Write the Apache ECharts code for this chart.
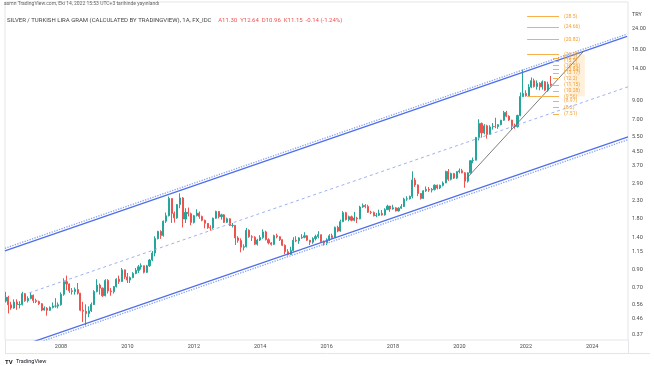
<!DOCTYPE html>
<html><head><meta charset="utf-8">
<script src="https://cdn.jsdelivr.net/npm/echarts@6/dist/echarts.min.js"></script>
<style>html,body{margin:0;padding:0;background:#fff}#c{width:654px;height:366px}</style>
</head><body><div id="c"></div>
<script>
// ---- DATA (monthly candles, SILVER / TRY per gram, from 2006-05) ----
const startYear = 2006, startMonth = 5;
const opens = [
 0.586,0.618,0.557,0.533,0.578,0.558,0.560,0.648,
 0.589,0.607,0.635,0.590,0.582,0.565,0.518,0.531,0.517,0.537,0.547,0.547,
 0.557,0.643,0.764,0.740,0.674,0.668,0.686,0.653,0.517,0.510,0.494,0.513,
 0.559,0.667,0.729,0.699,0.630,0.777,0.673,0.666,0.714,0.790,0.765,0.897,
 0.815,0.781,0.807,0.855,0.891,0.935,0.950,0.868,0.948,1.026,1.128,1.374,
 1.515,1.435,1.744,1.877,2.375,1.938,1.823,2.186,2.394,1.794,1.969,1.930,
 1.714,1.879,1.947,1.860,1.765,1.692,1.595,1.588,1.814,1.991,1.853,1.900,
 1.717,1.800,1.643,1.647,1.387,1.341,1.222,1.229,1.540,1.409,1.401,1.273,
 1.348,1.395,1.506,1.355,1.296,1.271,1.431,1.410,1.354,1.254,1.149,1.106,
 1.168,1.344,1.334,1.388,1.399,1.428,1.344,1.309,1.375,1.413,1.450,1.319,
 1.296,1.351,1.428,1.396,1.602,1.523,1.731,1.958,1.780,1.852,1.764,1.820,
 1.800,2.116,2.159,2.130,1.969,1.963,1.879,1.890,1.941,1.900,2.040,2.141,
 2.059,2.091,2.004,2.083,2.128,2.357,2.366,2.447,3.054,2.859,2.543,2.379,
 2.636,2.691,2.663,2.690,2.850,2.741,2.843,2.937,3.437,3.088,3.340,3.137,
 3.424,3.466,3.372,3.009,3.371,3.979,4.008,5.468,6.617,5.813,6.401,5.697,
 6.307,6.340,6.335,6.507,6.913,7.687,7.300,6.928,6.420,6.331,7.376,9.539,
 9.963,9.650,10.860,11.860,10.940,11.440,10.900,11.680,10.420,11.300
];
const highs = [
 0.665,0.630,0.580,0.600,0.600,0.585,0.665,0.655,
 0.625,0.660,0.640,0.605,0.590,0.570,0.545,0.540,0.545,0.575,0.610,0.575,
 0.660,0.800,0.830,0.745,0.700,0.705,0.750,0.655,0.580,0.560,0.545,0.575,
 0.680,0.790,0.745,0.705,0.790,0.790,0.700,0.720,0.800,0.830,0.920,0.900,
 0.860,0.820,0.870,0.920,0.960,0.980,0.950,0.960,1.040,1.160,1.420,1.530,
 1.540,1.760,1.960,2.440,2.380,1.990,2.200,2.550,2.420,2.080,2.100,1.960,
 1.900,2.050,1.990,1.880,1.780,1.700,1.650,1.830,2.010,2.000,1.930,1.920,
 1.830,1.810,1.700,1.650,1.420,1.380,1.270,1.590,1.560,1.440,1.420,1.370,
 1.440,1.560,1.530,1.380,1.310,1.450,1.470,1.420,1.360,1.270,1.190,1.230,
 1.400,1.420,1.400,1.460,1.500,1.440,1.350,1.400,1.450,1.520,1.450,1.340,
 1.380,1.460,1.470,1.620,1.640,1.780,2.000,1.980,1.880,1.880,1.980,1.850,
 2.150,2.220,2.200,2.180,2.010,1.990,1.950,2.040,2.030,2.080,2.180,2.150,
 2.180,2.110,2.110,2.200,2.400,2.450,2.470,3.440,3.150,2.880,2.560,2.660,
 2.800,2.780,2.740,2.880,2.870,2.870,3.000,3.470,3.550,3.380,3.370,3.450,
 3.580,3.560,3.400,3.400,4.000,4.150,5.500,7.000,6.700,6.550,6.500,6.450,
 6.650,7.150,6.550,6.950,7.850,7.850,7.400,6.950,6.600,7.450,10.100,13.800,
 10.400,11.300,12.400,12.200,11.900,11.600,11.900,11.800,11.700,12.640
];
const lows = [
 0.575,0.495,0.520,0.528,0.520,0.530,0.552,0.580,
 0.575,0.600,0.570,0.570,0.555,0.510,0.515,0.480,0.512,0.530,0.535,0.530,
 0.550,0.630,0.680,0.655,0.640,0.640,0.640,0.510,0.440,0.420,0.470,0.505,
 0.555,0.660,0.640,0.620,0.625,0.650,0.630,0.650,0.705,0.740,0.760,0.790,
 0.750,0.750,0.800,0.845,0.860,0.900,0.855,0.860,0.935,1.010,1.080,1.360,
 1.370,1.410,1.700,1.860,1.700,1.710,1.800,2.080,1.600,1.700,1.860,1.650,
 1.690,1.860,1.800,1.740,1.580,1.570,1.530,1.570,1.800,1.810,1.780,1.700,
 1.700,1.630,1.600,1.260,1.300,1.140,1.170,1.220,1.390,1.330,1.260,1.250,
 1.330,1.370,1.340,1.270,1.250,1.260,1.380,1.330,1.240,1.110,1.090,1.100,
 1.150,1.310,1.280,1.370,1.380,1.330,1.260,1.280,1.340,1.380,1.300,1.250,
 1.260,1.330,1.370,1.390,1.500,1.510,1.720,1.760,1.740,1.740,1.740,1.700,
 1.790,2.090,2.080,1.950,1.920,1.860,1.840,1.870,1.880,1.880,2.030,1.980,
 2.040,1.990,1.990,2.060,2.120,2.300,2.340,2.380,2.780,2.450,2.340,2.360,
 2.600,2.600,2.580,2.650,2.690,2.700,2.800,2.930,3.020,3.040,3.100,3.100,
 3.350,3.350,2.750,2.950,3.330,3.840,4.000,5.250,5.450,5.700,5.380,5.650,
 6.080,6.200,6.150,6.450,6.850,7.200,6.850,6.050,6.150,6.250,7.300,9.500,
 9.550,9.550,10.700,10.800,10.500,10.400,10.500,10.300,10.200,10.960
];
const closes = [
 0.618,0.557,0.533,0.578,0.558,0.560,0.648,0.589,
 0.607,0.635,0.590,0.582,0.565,0.518,0.531,0.517,0.537,0.547,0.547,0.557,
 0.643,0.764,0.740,0.674,0.668,0.686,0.653,0.517,0.510,0.494,0.513,0.559,
 0.667,0.729,0.699,0.630,0.777,0.673,0.666,0.714,0.790,0.765,0.897,0.815,
 0.781,0.807,0.855,0.891,0.935,0.950,0.868,0.948,1.026,1.128,1.374,1.515,
 1.435,1.744,1.877,2.375,1.938,1.823,2.186,2.394,1.794,1.969,1.930,1.714,
 1.879,1.947,1.860,1.765,1.692,1.595,1.588,1.814,1.991,1.853,1.900,1.717,
 1.800,1.643,1.647,1.387,1.341,1.222,1.229,1.540,1.409,1.401,1.273,1.348,
 1.395,1.506,1.355,1.296,1.271,1.431,1.410,1.354,1.254,1.149,1.106,1.168,
 1.344,1.334,1.388,1.399,1.428,1.344,1.309,1.375,1.413,1.450,1.319,1.296,
 1.351,1.428,1.396,1.602,1.523,1.731,1.958,1.780,1.852,1.764,1.820,1.800,
 2.116,2.159,2.130,1.969,1.963,1.879,1.890,1.941,1.900,2.040,2.141,2.059,
 2.091,2.004,2.083,2.128,2.357,2.366,2.447,3.054,2.859,2.543,2.379,2.636,
 2.691,2.663,2.690,2.850,2.741,2.843,2.937,3.437,3.088,3.340,3.137,3.424,
 3.466,3.372,3.009,3.371,3.979,4.008,5.468,6.617,5.813,6.401,5.697,6.307,
 6.340,6.335,6.507,6.913,7.687,7.300,6.928,6.420,6.331,7.376,9.539,9.963,
 9.650,10.860,11.860,10.940,11.440,10.900,11.680,10.420,11.290,11.150
];
const yearTicks = [2008, 2010, 2012, 2014, 2016, 2018, 2020, 2022, 2024];
const priceTicks = [24, 18, 14, 9, 7, 5.5, 4.5, 3.7, 2.9, 2.3, 1.8, 1.4, 1.15, 0.9, 0.7, 0.56, 0.46, 0.37];
// drawings (time in decimal years, price)
const channelUpper = [[2006.31, 1.164], [2025.05, 21.67]];
const channelUpperDots = [[2006.31, 1.204], [2025.05, 22.4]];
const channelMiddle = [[2007.05, 0.656], [2025.08, 10.91]];
const channelLower = [[2007.0, 0.328], [2025.08, 5.50]];
const channelLowerDots = [[2007.1, 0.3216], [2025.08, 5.30]];
const trendLine = [[2020.22, 3.13], [2023.73, 17.6]];
const fibLong = [28.5, 24.66, 20.82, 16.97, 9.56];
const fibShort = [16.2, 15.5, 14.56, 13.84, 13.17, 12.2, 11.15, 10.28, 8.97, 8.2, 7.51];
const lastPrice = 11.15;

// ---- CHART ----
const FONT = 'Roboto, "Liberation Sans", sans-serif';
const candles = closes.map((c, i) => [startYear + (startMonth - 1 + i) / 12, opens[i], c, lows[i], highs[i]]);
const n = closes.length;
const chg = closes[n - 1] - closes[n - 2];
const chgPct = chg / closes[n - 2] * 100;

const fibLines = [];
fibLong.forEach(v => fibLines.push([{name: '(' + v + ')', coord: [2022.04, v]}, {coord: [2023.0, v]}]));
fibShort.forEach(v => fibLines.push([{name: '(' + v + ')', coord: [2022.82, v]}, {coord: [2023.0, v]}]));

function lineSeries(data, color, type, width) {
  return {type: 'line', data, symbol: 'none', silent: true, z: 3, clip: true,
    lineStyle: {color, type, width}};
}

const chart = echarts.init(document.getElementById('c'));
chart.setOption({
  animation: false,
  backgroundColor: '#fff',
  grid: {left: 5, right: 26, top: 2, bottom: 26, show: true, borderColor: '#e3e5ea', borderWidth: 1},
  xAxis: {
    type: 'value', min: 2006.313, max: 2025.078,
    axisLine: {show: false}, axisTick: {show: false}, splitLine: {show: false},
    axisLabel: {customValues: yearTicks, formatter: v => String(Math.round(v)), fontSize: 5.5,
      color: '#4a4a4a', margin: 4, fontFamily: FONT}
  },
  yAxis: {
    type: 'log', logBase: 10, position: 'right', min: 0.3445, max: 34.69,
    axisLine: {show: false}, axisTick: {show: false}, splitLine: {show: false},
    axisLabel: {customValues: priceTicks, formatter: v => Number(v).toFixed(2), fontSize: 5.5,
      color: '#4a4a4a', margin: 4, align: 'left', fontFamily: FONT}
  },
  series: [
    {
      type: 'candlestick', data: candles, encode: {x: 0, y: [1, 2, 3, 4]},
      barWidth: 1.6, z: 2, silent: true,
      itemStyle: {color: '#26a69a', color0: '#ef5350', borderColor: '#26a69a', borderColor0: '#ef5350', borderWidth: 1},
      markLine: {
        silent: true, symbol: 'none', animation: false,
        lineStyle: {opacity: 0},
        label: {show: true, position: 'end', distance: 0, formatter: () => lastPrice.toFixed(2),
          backgroundColor: '#ef5350', color: '#fff', fontSize: 5.5, padding: [1.5, 3], fontFamily: FONT},
        data: [{yAxis: lastPrice}]
      }
    },
    lineSeries(channelUpperDots, '#8aa2f2', 'dotted', 1.3),
    lineSeries(channelUpper, '#4f6fe6', 'solid', 1.3),
    lineSeries(channelMiddle, '#93a8ee', [3, 3], 0.9),
    lineSeries(channelLower, '#4f6fe6', 'solid', 1.3),
    lineSeries(channelLowerDots, '#8aa2f2', 'dotted', 1.3),
    Object.assign(lineSeries(trendLine, '#6e6e6e', 'solid', 0.9), {
      markLine: {
        silent: true, symbol: 'none', animation: false,
        lineStyle: {color: '#f7b04a', type: 'solid', width: 1},
        label: {show: true, position: 'end', distance: 5, formatter: '{b}', color: '#f0a030',
          fontSize: 5, fontFamily: FONT},
        data: fibLines
      },
      markArea: {
        silent: true,
        itemStyle: {color: 'rgba(255,170,60,0.18)'},
        data: [[{coord: [2023.27, 9.56]}, {coord: [2023.78, 16.97]}]]
      }
    })
  ],
  graphic: [
    {type: 'text', left: 4, top: 1, silent: true,
      style: {text: 'asmn TradingView.com, Eki 14, 2022 15:53 UTC+3 tarihinde yayınlandı', fontSize: 5, fill: '#666', fontFamily: FONT}},
    {type: 'text', left: 7, top: 14, silent: true,
      style: {
        text: '{g|SILVER / TURKISH LIRA GRAM (CALCULATED BY TRADINGVIEW), 1A, FX_IDC}  {r|A' + opens[n-1].toFixed(2) +
          '  Y' + highs[n-1].toFixed(2) + '  D' + lows[n-1].toFixed(2) + '  K' + closes[n-1].toFixed(2) +
          '  ' + chg.toFixed(2) + ' (' + chgPct.toFixed(2) + '%)}',
        rich: {g: {fontSize: 6, fill: '#444', fontFamily: FONT}, r: {fontSize: 6, fill: '#ef5350', fontFamily: FONT}}
      }},
    {type: 'text', left: 632, top: 12, silent: true, style: {text: 'TRY', fontSize: 5.5, fill: '#4a4a4a', fontFamily: FONT}},
    {type: 'line', silent: true, shape: {x1: 5, y1: 353.5, x2: 650, y2: 353.5}, style: {stroke: '#e3e5ea', lineWidth: 1}},
    {type: 'line', silent: true, shape: {x1: 628.5, y1: 340, x2: 628.5, y2: 353.5}, style: {stroke: '#e3e5ea', lineWidth: 1}},
    {type: 'line', silent: true, shape: {x1: 5.5, y1: 340, x2: 5.5, y2: 353.5}, style: {stroke: '#e3e5ea', lineWidth: 1}},
    {type: 'text', left: 5, top: 356, silent: true,
      style: {text: '{l|TV} {t|TradingView}', rich: {l: {fontSize: 6, fontWeight: 'bold', fill: '#131722', fontFamily: FONT}, t: {fontSize: 5.5, fill: '#131722', fontFamily: FONT}}}}
  ]
});
</script></body></html>
